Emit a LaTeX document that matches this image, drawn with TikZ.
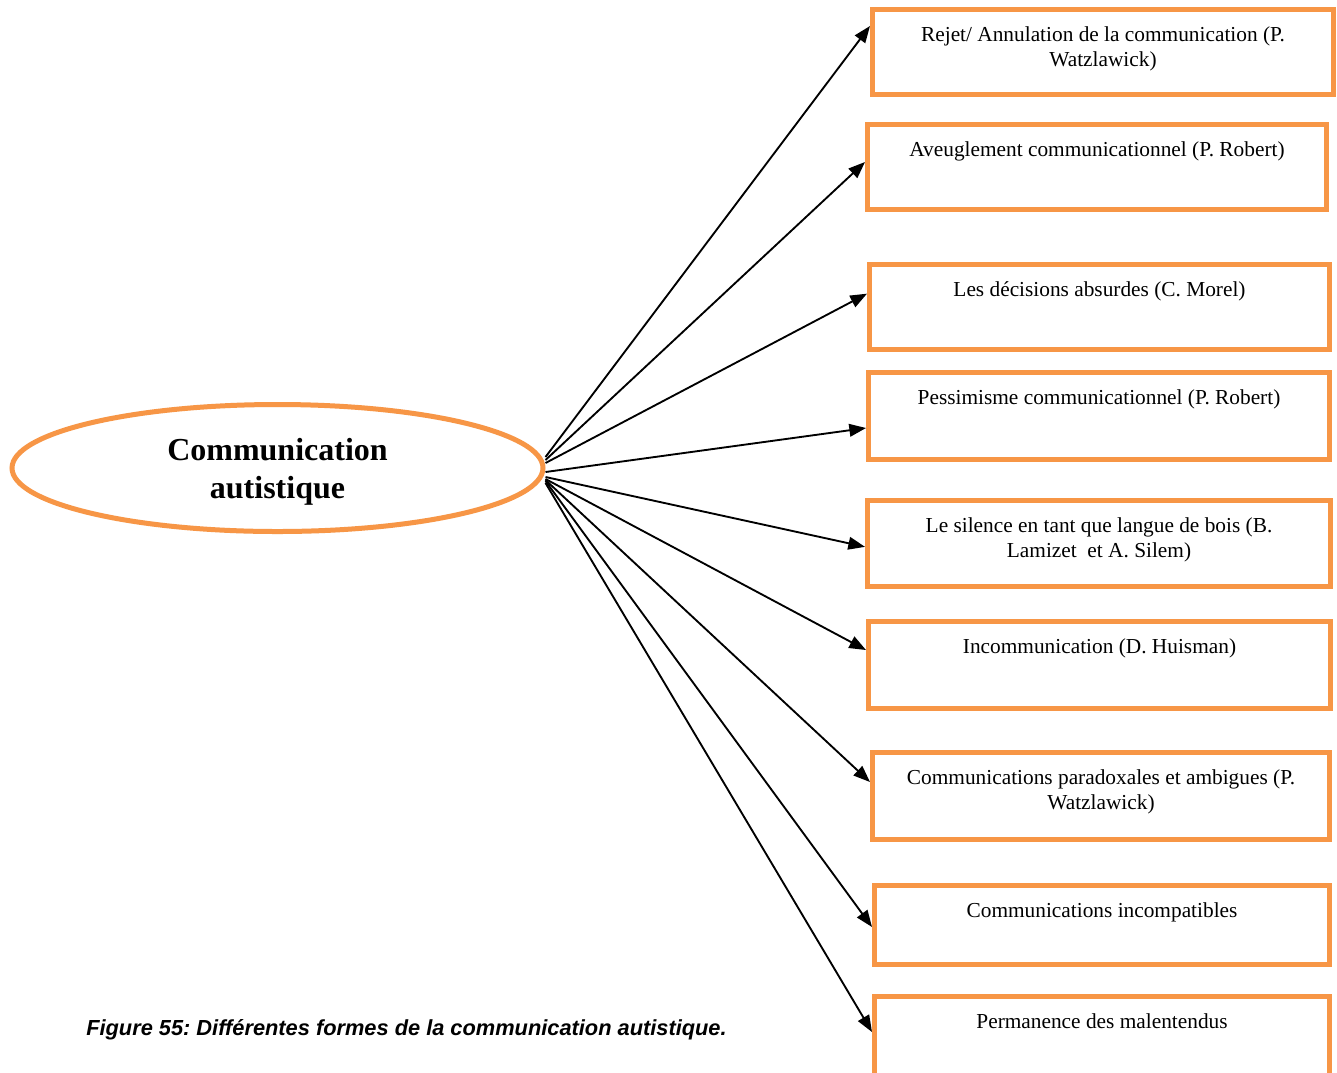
\documentclass[tikz,border=0pt]{standalone}
\usepackage{fontspec}
\setmainfont{Liberation Serif}
\newfontfamily\capfont{Liberation Sans}
\usetikzlibrary{shapes.geometric,arrows.meta}
\definecolor{acc}{HTML}{F79646}
\frenchspacing
\begin{document}
\begin{tikzpicture}[x=0.75pt,y=-0.75pt,
  obox/.style={draw=acc, line width=3.75pt, rectangle, inner sep=0pt},
  btext/.style={font=\fontsize{16}{18.75}\selectfont, inner sep=0pt, anchor=base},
  conn/.style={line width=1.4pt, -{Triangle[length=12.5pt,width=9.5pt]}}]
\clip (0,0) rectangle (1337,1072);
\fill[white] (0,0) rectangle (1337,1072);

% central ellipse
\node[ellipse, draw=acc, line width=3.75pt, inner sep=0pt,
      minimum width=398.25pt, minimum height=95.25pt] (ell) at (277.5,468) {};
\node[font=\bfseries\fontsize{24}{28.5}\selectfont, anchor=base, inner sep=0pt] (title) at (277.5,460)
  {\begin{tabular}[t]{@{}c@{}}Communication\\autistique\end{tabular}};

% boxes
\node[obox, minimum width=345.75pt, minimum height=63.75pt] (b1) at (1103,52) {};
\node[obox, minimum width=344.25pt, minimum height=63.75pt] (b2) at (1097,167) {};
\node[obox, minimum width=345pt, minimum height=63.75pt] (b3) at (1099.5,307) {};
\node[obox, minimum width=345.75pt, minimum height=65.25pt] (b4) at (1099,416) {};
\node[obox, minimum width=347.25pt, minimum height=64.5pt] (b5) at (1099,543.5) {};
\node[obox, minimum width=346.5pt, minimum height=65.25pt] (b6) at (1099.5,665) {};
\node[obox, minimum width=342.75pt, minimum height=65.25pt] (b7) at (1101,796) {};
\node[obox, minimum width=341.25pt, minimum height=59.25pt] (b8) at (1102,925) {};
\node[obox, minimum width=341.25pt, minimum height=68.25pt] (b9) at (1102,1042) {};

% box texts
\node[btext] (t1) at (1103,41) {\begin{tabular}[t]{@{}c@{}}Rejet/ Annulation de la communication (P.\\ Watzlawick)\end{tabular}};
\node[btext] (t2) at (1097,156) {Aveuglement communicationnel (P. Robert)};
\node[btext] (t3) at (1099.5,296) {Les décisions absurdes (C. Morel)};
\node[btext] (t4) at (1099,404) {Pessimisme communicationnel (P. Robert)};
\node[btext] (t5) at (1099,532) {\begin{tabular}[t]{@{}c@{}}Le silence en tant que langue de bois (B.\\ Lamizet~ et A. Silem)\end{tabular}};
\node[btext] (t6) at (1099.5,653) {Incommunication (D. Huisman)};
\node[btext] (t7) at (1101,784) {\begin{tabular}[t]{@{}c@{}}Communications paradoxales et ambigues (P.\\ Watzlawick)\end{tabular}};
\node[btext] (t8) at (1102,917) {Communications incompatibles};
\node[btext] (t9) at (1102,1028) {Permanence des malentendus};

% connectors
\draw[conn] ([yshift=8.25pt]ell.east) -- ([yshift=19.5pt]b1.west);
\draw[conn] ([yshift=6pt]ell.east) -- ([yshift=3.75pt]b2.west);
\draw[conn] ([yshift=3.75pt]ell.east) -- ([yshift=10pt]b3.west);
\draw[conn] ([yshift=-3pt]ell.east) -- ([yshift=-9pt]b4.west);
\draw[conn] ([yshift=-6.75pt]ell.east) -- ([yshift=-2.5pt]b5.west);
\draw[conn] ([yshift=-8.25pt]ell.east) -- ([yshift=11.25pt]b6.west);
\draw[conn] ([yshift=-9pt]ell.east) -- ([yshift=10.5pt]b7.west);
\draw[conn] ([yshift=-9.75pt]ell.east) -- ([yshift=-1.5pt]b8.west);
\draw[conn] ([yshift=-11.25pt]ell.east) -- ([yshift=7.5pt]b9.west);

% caption
\node[font=\capfont\bfseries\itshape\fontsize{16.35}{19}\selectfont, anchor=base west, inner sep=0pt] (cap)
  at (86,1035) {Figure 55: Différentes formes de la communication autistique.};
\end{tikzpicture}
\end{document}
